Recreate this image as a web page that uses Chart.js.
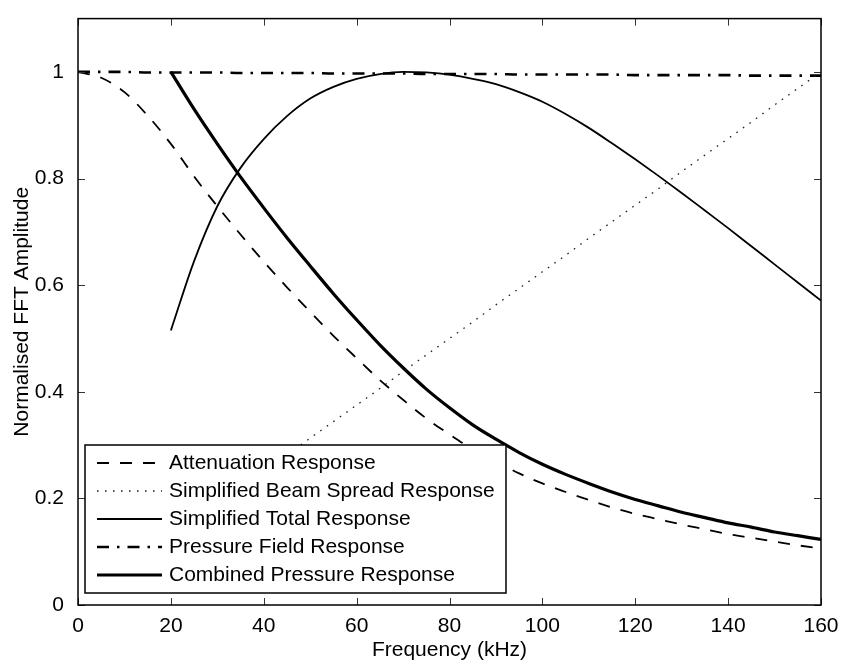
<!DOCTYPE html>
<html>
<head>
<meta charset="utf-8">
<title>Normalised FFT Amplitude</title>
<script src="https://cdn.jsdelivr.net/npm/chart.js@4.4.1/dist/chart.umd.min.js"></script>
<style>
  html, body { margin: 0; padding: 0; background: #fff; }
  canvas { display: block; }
</style>
</head>
<body>
<canvas id="responseChart" width="843" height="666"></canvas>
<script>
// frequency axis (kHz), one sample every 5 kHz
var frequency = [0, 5, 10, 15, 20, 25, 30, 35, 40, 45, 50, 55, 60, 65, 70, 75, 80,
    85, 90, 95, 100, 105, 110, 115, 120, 125, 130, 135, 140, 145, 150, 155, 160];

var attenuation = [1.000, 0.989, 0.962, 0.918, 0.865, 0.804, 0.748, 0.695, 0.644, 0.596, 0.550,
    0.505, 0.463, 0.422, 0.385, 0.350, 0.320, 0.292, 0.269, 0.247, 0.228, 0.212, 0.197,
    0.183, 0.171, 0.161, 0.151, 0.142, 0.133, 0.126, 0.119, 0.112, 0.106];

var beamSpread = [null, null, null, null, 0.125, 0.156, 0.188, 0.219, 0.250, 0.281, 0.313,
    0.344, 0.375, 0.406, 0.438, 0.469, 0.500, 0.531, 0.563, 0.594, 0.625, 0.656, 0.688,
    0.719, 0.750, 0.781, 0.813, 0.844, 0.875, 0.906, 0.938, 0.969, 1.000];

var totalResponse = [null, null, null, null, 0.515, 0.645, 0.748, 0.820, 0.874, 0.917, 0.950,
    0.972, 0.987, 0.996, 1.000, 0.999, 0.995, 0.987, 0.977, 0.962, 0.944, 0.921, 0.895,
    0.866, 0.836, 0.805, 0.773, 0.740, 0.707, 0.673, 0.639, 0.605, 0.571];

var pressureField = [1.000, 1.000, 1.000, 0.999, 0.999, 0.999, 0.999, 0.998, 0.998, 0.998, 0.998,
    0.997, 0.997, 0.997, 0.997, 0.996, 0.996, 0.996, 0.996, 0.995, 0.995, 0.995, 0.995,
    0.995, 0.994, 0.994, 0.994, 0.994, 0.994, 0.993, 0.993, 0.993, 0.993];

var combinedPressure = [null, null, null, null, 1.000, 0.930, 0.865, 0.803, 0.745, 0.689, 0.636,
    0.584, 0.535, 0.488, 0.445, 0.405, 0.370, 0.338, 0.311, 0.286, 0.264, 0.245, 0.228,
    0.212, 0.198, 0.186, 0.174, 0.164, 0.154, 0.146, 0.137, 0.130, 0.123];

var xTickStep = 20;
var yTickStep = 0.2;

var fontFamily = '"Liberation Sans", Arial, Helvetica, sans-serif';

function toPoints(values) {
    return frequency.map(function (f, i) {
        return { x: f, y: values[i] };
    }).filter(function (p) {
        return p.y !== null;
    });
}

function lineSet(label, values, width, dash, colour) {
    return {
        label: label,
        data: toPoints(values),
        borderColor: colour || '#000',
        borderWidth: width,
        borderDash: dash,
        pointRadius: 0,
        fill: false,
        cubicInterpolationMode: 'monotone'
    };
}

// box round the axes, inward ticks on all four sides and the boxed legend
var matlabFrame = {
    id: 'matlabFrame',
    afterDraw: function (chart) {
        var ctx = chart.ctx;
        var area = chart.chartArea;
        var xs = chart.scales.x;
        var ys = chart.scales.y;

        ctx.save();
        ctx.lineWidth = 1;
        ctx.strokeStyle = '#333';
        ctx.setLineDash([]);
        xs.ticks.forEach(function (t) {
            var px = Math.round(xs.getPixelForValue(t.value)) + 0.5;
            ctx.beginPath();
            ctx.moveTo(px, area.bottom);
            ctx.lineTo(px, area.bottom - 7);
            ctx.moveTo(px, area.top);
            ctx.lineTo(px, area.top + 7);
            ctx.stroke();
        });
        ys.ticks.forEach(function (t) {
            var py = Math.round(ys.getPixelForValue(t.value)) + 0.5;
            ctx.beginPath();
            ctx.moveTo(area.left, py);
            ctx.lineTo(area.left + 7, py);
            ctx.moveTo(area.right, py);
            ctx.lineTo(area.right - 7, py);
            ctx.stroke();
        });

        // legend
        var box = { left: area.left + 7, top: area.bottom - 160, width: 421, height: 148 };
        ctx.fillStyle = '#fff';
        ctx.fillRect(box.left, box.top, box.width, box.height);
        ctx.lineWidth = 1.5;
        ctx.strokeStyle = '#000';
        ctx.strokeRect(box.left, box.top, box.width, box.height);

        ctx.font = '21px ' + fontFamily;
        ctx.textBaseline = 'middle';
        ctx.textAlign = 'left';
        chart.data.datasets.forEach(function (ds, i) {
            var rowY = box.top + 18 + i * 28;
            ctx.beginPath();
            ctx.lineWidth = ds.borderWidth;
            ctx.strokeStyle = ds.borderColor;
            ctx.setLineDash(ds.borderDash || []);
            ctx.moveTo(box.left + 12, rowY);
            ctx.lineTo(box.left + 77, rowY);
            ctx.stroke();
            ctx.setLineDash([]);
            ctx.fillStyle = '#000';
            ctx.fillText(ds.label, box.left + 84, rowY);
        });

        ctx.lineWidth = 1.5;
        ctx.strokeStyle = '#000';
        ctx.strokeRect(area.left, area.top, area.right - area.left, area.bottom - area.top);
        ctx.restore();
    }
};

function renderChart(canvas) {
    Chart.defaults.font.family = fontFamily;
    Chart.defaults.font.size = 21;
    Chart.defaults.color = '#000';

    var config = {
        type: 'line',
        data: {
            datasets: [
                lineSet('Attenuation Response', attenuation, 1.8, [12, 11]),
                lineSet('Simplified Beam Spread Response', beamSpread, 1.3, [1.6, 6.4], '#222'),
                lineSet('Simplified Total Response', totalResponse, 1.8, []),
                lineSet('Pressure Field Response', pressureField, 2.6, [12, 8, 2.5, 8]),
                lineSet('Combined Pressure Response', combinedPressure, 3.2, [])
            ]
        },
        options: {
            responsive: false,
            animation: false,
            layout: { padding: { left: 0, top: 5, right: 22, bottom: 0 } },
            plugins: {
                legend: { display: false },
                tooltip: { enabled: false }
            },
            scales: {
                x: {
                    type: 'linear',
                    min: 0,
                    max: 160,
                    grid: { display: false },
                    border: { display: false },
                    ticks: { stepSize: xTickStep, padding: 1, maxRotation: 0 },
                    title: { display: true, text: 'Frequency (kHz)', padding: { top: 0, bottom: 3 } },
                    afterFit: function (scale) { scale.height = 61; }
                },
                y: {
                    type: 'linear',
                    min: 0,
                    max: 1.1,
                    grid: { display: false },
                    border: { display: false },
                    ticks: {
                        stepSize: yTickStep,
                        padding: 6,
                        includeBounds: false,
                        callback: function (v) { return String(+v.toFixed(1)); }
                    },
                    title: { display: true, text: 'Normalised FFT Amplitude', padding: { top: 10, bottom: 0 } },
                    afterFit: function (scale) { scale.width = 78; }
                }
            }
        },
        plugins: [matlabFrame]
    };
    return new Chart(canvas.getContext('2d'), config);
}

renderChart(document.getElementById('responseChart'));
</script>
</body>
</html>
